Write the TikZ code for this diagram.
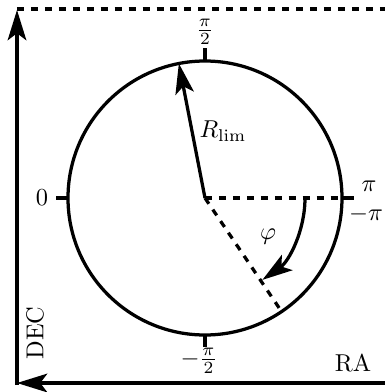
\documentclass[tikz,border=0pt]{standalone}
\usetikzlibrary{arrows.meta,calc}
\begin{document}
\begin{tikzpicture}[x=0.43pt,y=0.43pt,
  thickline/.style={line width=1.4pt},
  arr/.style={thickline,-{Stealth[length=13pt,width=8pt,inset=3pt]}},
  lbl/.style={inner sep=1pt,scale=1.05}]
\useasboundingbox (0,0) rectangle (385,392);
% coordinates
\coordinate (O) at (205,194);
\coordinate (T1) at (205,331); \coordinate (T2) at (205,344);
\coordinate (B1) at (205,57);  \coordinate (B2) at (205,45);
\coordinate (L1) at (68,194);  \coordinate (L2) at (56,194);
\coordinate (R1) at (342,194); \coordinate (R2) at (354,194);
\coordinate (P) at ($(O)+(-56:137)$);
\coordinate (Q) at ($(O)+(101:137)$);
\coordinate (A0) at ($(O)+(0:100)$);
\coordinate (Corner) at (17,9);
\coordinate (Ytop) at (17,382);
\coordinate (Xend) at (385,9);
\coordinate (Dtop) at (17,383);
\coordinate (Dend) at (385,383);
% circle
\draw[thickline] (O) circle[radius=137];
% ticks
\draw[thickline] (T1) -- (T2);
\draw[thickline] (B1) -- (B2);
\draw[thickline] (L1) -- (L2);
\draw[thickline] (R1) -- (R2);
% dashed radii
\draw[thickline,dashed] (O) -- (R1);
\draw[thickline,dashed] (O) -- (P);
% R_lim arrow
\draw[arr] (O) -- (Q);
\node[lbl] (rlim) at (223,261) {$R_{\mathrm{lim}}$};
% phi arc
\draw[arr] (A0) arc[start angle=0,end angle=-55,radius=100];
\node[lbl] (phi) at (268,155) {$\varphi$};
% tick labels
\node[lbl] (lpi2) at (205,360) {$\frac{\pi}{2}$};
\node[lbl] (lmpi2) at (199,31) {$-\frac{\pi}{2}$};
\node[lbl] (l0) at (42,194) {$0$};
\node[lbl] (lpi) at (369,206) {$\pi$};
\node[lbl] (lmpi) at (366,178) {$-\pi$};
% axes
\draw[arr] (Xend) -- (Corner);
\draw[arr] (17,7) -- (Ytop);
\draw[thickline,dashed] (Dtop) -- (Dend);
\node[lbl,rotate=90] (dec) at (35,59) {DEC};
\node[lbl] (ra) at (353,29) {RA};
\end{tikzpicture}
\end{document}
